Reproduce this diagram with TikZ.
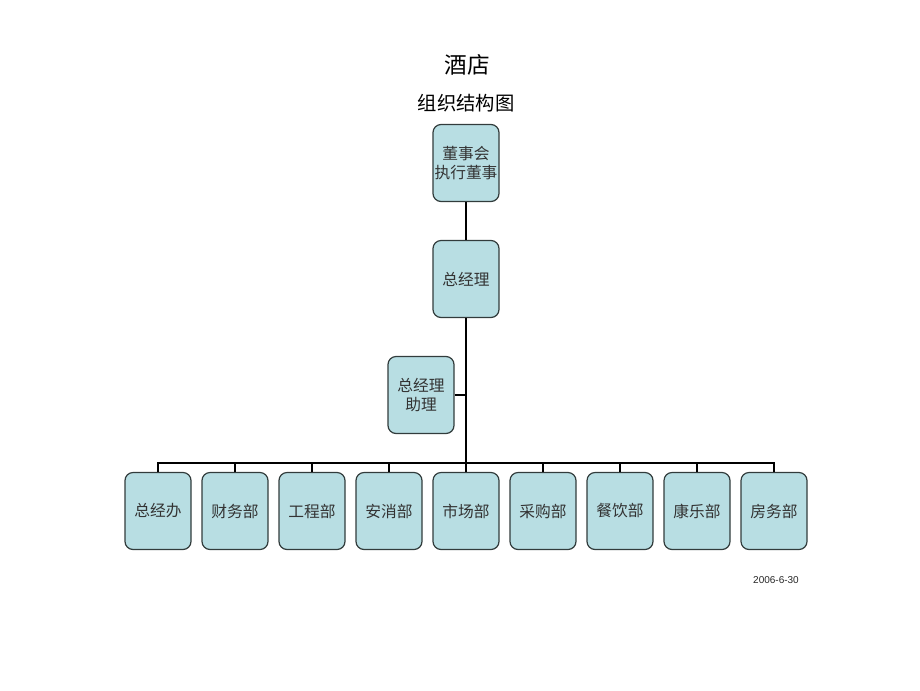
\documentclass[tikz,border=0pt]{standalone}
\usepackage{fontspec}
\newfontfamily\cjk{Noto Sans CJK SC}
\setsansfont{Liberation Sans}
\definecolor{boxfill}{RGB}{184,222,227}
\definecolor{boxedge}{RGB}{50,60,60}
\begin{document}
\begin{tikzpicture}[x=0.75pt,y=-0.75pt,
  orgbox/.style={draw=boxedge,line width=0.9pt,fill=boxfill,rounded corners=6pt,
    minimum width=66*0.75pt,minimum height=77*0.75pt,inner sep=1pt,align=center,
    font=\cjk\fontsize{11.8pt}{14.5pt}\selectfont,text=black!80},
  link/.style={line width=1.6pt,black}]
\useasboundingbox (0,0) rectangle (920,690);
\node[font=\cjk\fontsize{17pt}{20pt}\selectfont] (title) at (467,65) {酒店};
\node[font=\cjk\fontsize{14.5pt}{17pt}\selectfont] (sub) at (466,103) {组织结构图};
\node[orgbox] (board) at (466,163) {董事会\\执行董事};
\node[orgbox] (gm) at (466,279) {总经理};
\node[orgbox] (asst) at (421,395) {总经理\\助理};
\coordinate (bus) at (466,463);
\foreach \n/\t [count=\i from 0] in {a/总经办,b/财务部,c/工程部,d/安消部,e/市场部,f/采购部,g/餐饮部,h/康乐部,k/房务部}{
  \node[orgbox] (\n) at (158+77*\i,511) {\t};
}
\draw[link] (board) -- (gm);
\draw[link] (gm) -- (bus);
\draw[link] (asst.east) -- (asst.east -| gm);
\draw[link] (a.north) -- ++(0,-9) -| (k.north);
\foreach \n in {b,c,d,e,f,g,h}{
  \draw[link] (\n.north) -- ++(0,-9);
}
\node[font=\sffamily\fontsize{7.5pt}{9pt}\selectfont,text=black!85] (date) at (776,580) {2006-6-30};
\end{tikzpicture}
\end{document}
